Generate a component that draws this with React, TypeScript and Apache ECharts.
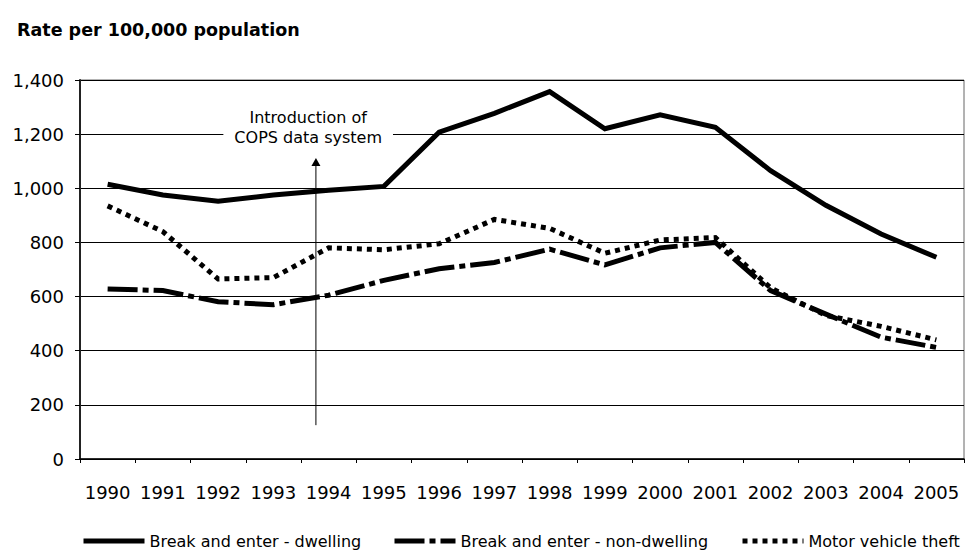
import React, { useEffect, useRef } from "react";
import * as echarts from "echarts";

const years = ["1990", "1991", "1992", "1993", "1994", "1995", "1996", "1997", "1998", "1999", "2000", "2001", "2002", "2003", "2004", "2005"];
const dwelling = [1015, 975, 952, 975, 993, 1007, 1207, 1277, 1357, 1220, 1271, 1225, 1065, 937, 831, 745];
const nonDwelling = [628, 622, 581, 570, 605, 660, 703, 726, 775, 717, 780, 800, 622, 535, 450, 412];
const theft = [935, 840, 665, 670, 780, 773, 795, 885, 852, 760, 809, 818, 632, 530, 490, 440];
const seriesNames = ["Break and enter - dwelling", "Break and enter - non-dwelling", "Motor vehicle theft"];
const yMin = 0;
const yMax = 1400;
const yStep = 200;
const titleText = "Rate per 100,000 population";
const annotLines = ["Introduction of", "COPS data system"];
// annotation anchor in data space (category index, value)
const annotX = 3.63;
const annotY = [1263, 1189];
const arrowX = 3.77;
const arrowFrom = 125;
const arrowTo = 1112;

const FONT = "DejaVu Sans";

export default function App() {
  const ref = useRef<HTMLDivElement>(null);
  useEffect(() => {
    if (!ref.current) return;
    const chart = echarts.init(ref.current, null, { renderer: "svg" });
    const legendBase = {
      top: 528,
      itemWidth: 61,
      itemHeight: 14,
      textStyle: { fontFamily: FONT, fontSize: 16, color: "#000" },
      lineStyle: { width: 5 },
      itemStyle: { opacity: 0 },
    };
    chart.setOption({
      animation: false,
      backgroundColor: "#fff",
      title: {
        text: titleText,
        left: 12,
        top: 16,
        textStyle: { fontFamily: FONT, fontSize: 17.5, fontWeight: "bold", color: "#000" },
      },
      legend: [
        { ...legendBase, left: 76, data: [seriesNames[0]] },
        { ...legendBase, left: 387, data: [seriesNames[1]] },
        { ...legendBase, left: 735, data: [seriesNames[2]] },
      ],
      grid: { left: 80, right: 5, top: 80, bottom: 92, show: true, borderColor: "#666", borderWidth: 1 },
      xAxis: {
        type: "category",
        data: years,
        boundaryGap: true,
        axisLine: { lineStyle: { color: "#000", width: 1.5 } },
        axisTick: { show: true, length: 4, lineStyle: { color: "#000" } },
        axisLabel: { fontFamily: FONT, fontSize: 18, color: "#000", margin: 24, interval: 0 },
        splitLine: { show: false },
      },
      yAxis: {
        type: "value",
        min: yMin,
        max: yMax,
        interval: yStep,
        axisLine: { show: true, lineStyle: { color: "#222", width: 2 } },
        axisTick: { show: true, length: 5, lineStyle: { color: "#000" } },
        axisLabel: {
          fontFamily: FONT,
          fontSize: 18,
          color: "#000",
          margin: 16,
          formatter: (v: number) => v.toLocaleString("en-US"),
        },
        splitLine: { show: true, lineStyle: { color: "#000", width: 1 } },
      },
      series: [
        {
          name: seriesNames[0],
          type: "line",
          data: dwelling,
          symbol: "none",
          lineStyle: { color: "#000", width: 5, type: "solid", join: "miter", cap: "butt" },
          itemStyle: { color: "#000" },
        },
        {
          name: seriesNames[1],
          type: "line",
          data: nonDwelling,
          symbol: "none",
          lineStyle: { color: "#000", width: 5, type: [30, 5, 6, 5], join: "miter", cap: "butt" },
          itemStyle: { color: "#000" },
        },
        {
          name: seriesNames[2],
          type: "line",
          data: theft,
          symbol: "none",
          lineStyle: { color: "#000", width: 5, type: [5, 5], join: "miter", cap: "butt" },
          itemStyle: { color: "#000" },
        },
      ],
    });

    const toPx = (xi: number, yv: number) => {
      const i0 = Math.floor(xi);
      const f = xi - i0;
      const a = chart.convertToPixel({ gridIndex: 0 }, [i0, yv]) as number[];
      const b = chart.convertToPixel({ gridIndex: 0 }, [i0 + 1, yv]) as number[];
      return [a[0] + (b[0] - a[0]) * f, a[1]];
    };
    const t1 = toPx(annotX, annotY[0]);
    const t2 = toPx(annotX, annotY[1]);
    const aBot = toPx(arrowX, arrowFrom);
    const aTop = toPx(arrowX, arrowTo);
    chart.setOption({
      graphic: [
        {
          type: "line",
          z: 50,
          shape: { x1: aBot[0], y1: aBot[1], x2: aTop[0], y2: aTop[1] + 7 },
          style: { stroke: "#000", lineWidth: 1 },
        },
        {
          type: "polygon",
          z: 50,
          shape: {
            points: [
              [aTop[0], aTop[1]],
              [aTop[0] - 4.5, aTop[1] + 8],
              [aTop[0] + 4.5, aTop[1] + 8],
            ],
          },
          style: { fill: "#000" },
        },
        {
          type: "text",
          z: 50,
          x: t1[0],
          y: t1[1],
          style: {
            text: annotLines[0],
            font: `16px "${FONT}"`,
            fill: "#000",
            align: "center",
            verticalAlign: "middle",
          },
        },
        {
          type: "text",
          z: 50,
          x: t2[0],
          y: t2[1],
          style: {
            text: annotLines[1],
            font: `16px "${FONT}"`,
            fill: "#000",
            align: "center",
            verticalAlign: "middle",
            backgroundColor: "#fff",
            padding: [1, 11],
          },
        },
      ],
    });
    return () => chart.dispose();
  }, []);
  return <div ref={ref} style={{ position: "fixed", left: 0, top: 0, width: 969, height: 551 }} />;
}
